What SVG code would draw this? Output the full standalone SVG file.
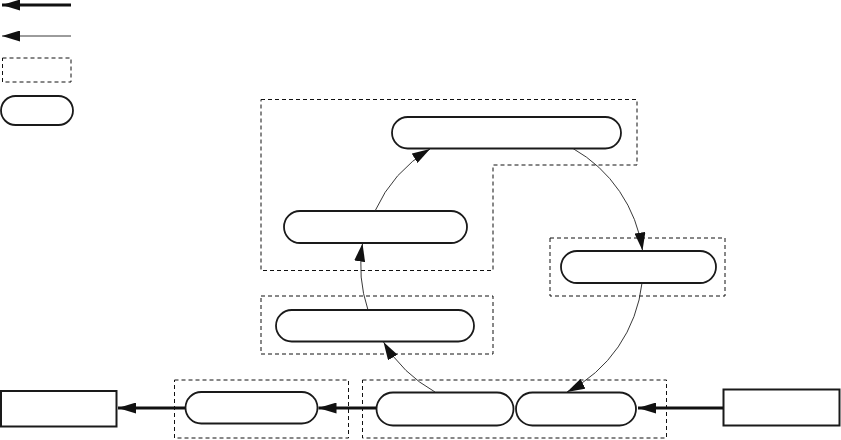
<svg xmlns="http://www.w3.org/2000/svg" width="841" height="440" viewBox="0 0 841 440">
<style>
.pill{fill:#fff;stroke:#1a1a1a;stroke-width:1.8}
.box{fill:none;stroke:#111;stroke-width:1;stroke-dasharray:4 3}
.rect{fill:#fff;stroke:#1a1a1a;stroke-width:2}
.thick{fill:none;stroke:#111;stroke-width:3;marker-end:url(#ah)}
.thin{fill:none;stroke:#222;stroke-width:0.9;marker-end:url(#ah)}
</style>
<defs>
<marker id="ah" markerUnits="userSpaceOnUse" markerWidth="18" markerHeight="11" refX="18" refY="5.5" orient="auto" viewBox="0 0 18 11">
<path d="M0,0 L18,5.5 L0,11 z" fill="#111"/>
</marker>
</defs>
<g id="legend">
<line class="thick" x1="71" y1="5" x2="2" y2="5"/>
<line class="thin" x1="71" y1="36" x2="2" y2="36"/>
<rect class="box" x="2.5" y="58" width="68.5" height="24"/>
<rect class="pill" x="1" y="96" width="72" height="29" rx="14.5"/>
</g>
<g id="groups">
<path class="box" d="M261,99.5 H637 V165 H493 V270.5 H261 Z"/>
<rect class="box" x="550" y="238" width="175" height="58"/>
<rect class="box" x="261" y="296" width="232" height="58"/>
<rect class="box" x="174.5" y="380" width="174" height="58"/>
<rect class="box" x="362.5" y="380" width="304" height="58"/>
</g>
<g id="n-top"><rect class="pill" x="392" y="117" width="229" height="31.5" rx="15.75"/></g>
<g id="n-left"><rect class="pill" x="284" y="211" width="183" height="32" rx="16"/></g>
<g id="n-right"><rect class="pill" x="561" y="251" width="155" height="32" rx="16"/></g>
<g id="n-mid"><rect class="pill" x="276" y="310" width="198" height="31.5" rx="15.75"/></g>
<g id="n-b1"><rect class="pill" x="185.5" y="392" width="132" height="31.5" rx="15.75"/></g>
<g id="n-b2"><rect class="pill" x="376.5" y="392.5" width="137" height="33" rx="16.5"/></g>
<g id="n-b3"><rect class="pill" x="516" y="392.5" width="120" height="33" rx="16.5"/></g>
<g id="n-outl"><rect class="rect" x="1" y="391" width="115.5" height="35.5"/></g>
<g id="n-outr"><rect class="rect" x="723.5" y="389.5" width="116" height="36"/></g>
<g id="connectors">
<line class="thick" x1="185" y1="408" x2="118" y2="408"/>
<line class="thick" x1="376" y1="408" x2="318.5" y2="408"/>
<line class="thick" x1="723" y1="408" x2="638" y2="408"/>
<path class="thin" d="M435,392 A140 140 0 0 1 383.5,342"/>
<path class="thin" d="M368,310 A140 140 0 0 1 362.5,243.5"/>
<path class="thin" d="M375,211 A140 140 0 0 1 430,149"/>
<path class="thin" d="M573,148.5 A140 140 0 0 1 642.5,250.5"/>
<path class="thin" d="M642,283 A140 140 0 0 1 567,392"/>
</g>
</svg>
